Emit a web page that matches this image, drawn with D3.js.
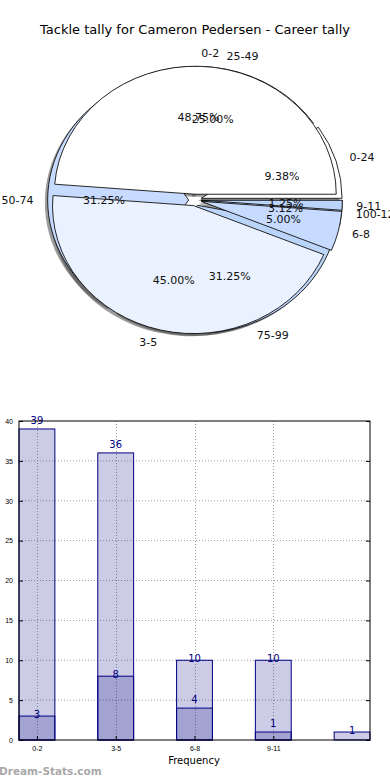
<!DOCTYPE html>
<html>
<head>
<meta charset="utf-8">
<script src="https://cdn.jsdelivr.net/npm/d3@7"></script>
<style>
  body { margin: 0; background: #fff; }
  svg { display: block; font-family: "DejaVu Sans", sans-serif; }
</style>
</head>
<body>
<div id="chart"></div>
<script>
// chart values
var title = "Tackle tally for Cameron Pedersen - Career tally";
var freqLabels = ["0-2", "3-5", "6-8", "9-11"];
var freqCounts = [39, 36, 4, 1];
var rangeLabels = ["0-24", "25-49", "50-74", "75-99", "100-124"];
var rangeCounts = [3, 8, 10, 10, 1];
var pieColors = ["#ffffff", "#ebf2ff", "#c6dbff", "#bad4fa", "#c6dbff"];
var yTicks = [0, 5, 10, 15, 20, 25, 30, 35, 40];
var xLabel = "Frequency";
var watermark = "Dream-Stats.com";

var W = 390, H = 780;
var svg = d3.select("#chart").append("svg")
    .attr("width", W)
    .attr("height", H);

svg.append("text")
    .attr("x", 195).attr("y", 34)
    .attr("text-anchor", "middle")
    .style("font-size", "13px")
    .text(title);

// ---- pies (two overlaid, matplotlib style) ----
var cx = 195, cy = 200, rx = 141, ry = 128, explode = 0.045;

// counter-clockwise from 3 o'clock
var pie = d3.pie().sort(null).startAngle(Math.PI / 2).endAngle(Math.PI / 2 - 2 * Math.PI);
var arc = d3.arc().innerRadius(0).outerRadius(ry);

// round half to even, like python's %1.2f
function pct(v, total) {
    var p = v / total * 10000;
    var f = Math.floor(p), r = Math.round(p);
    if (Math.abs(p - f - 0.5) < 1e-9) r = (f % 2 === 0) ? f : f + 1;
    return (r / 100).toFixed(2) + "%";
}

function layout(values, labels) {
    var total = d3.sum(values);
    return pie(values).map(function(d, i) {
        var m = (d.startAngle + d.endAngle) / 2;
        var ux = Math.sin(m), uy = -Math.cos(m);
        return {
            arc: d, label: labels[i], color: pieColors[i],
            pctText: pct(values[i], total),
            ux: ux, uy: uy,
            ox: cx + explode * rx * ux,
            oy: cy + explode * ry * uy
        };
    });
}

var sliceA = layout(freqCounts, freqLabels);
var sliceB = layout(rangeCounts, rangeLabels);
var allSlices = sliceB.concat(sliceA);
var sx = rx / ry;

// shadows first
svg.append("g").selectAll("path.shadow")
    .data(allSlices)
    .enter().append("path")
    .attr("class", "shadow")
    .attr("d", function(d) { return arc(d.arc); })
    .attr("transform", function(d) {
        return "translate(" + (d.ox - 0.02 * rx) + "," + (d.oy + 0.02 * ry) + ") scale(" + sx + ",1)";
    })
    .attr("fill", "#3a3a3a")
    .attr("opacity", 0.5);

function drawWedges(slices) {
    svg.append("g").selectAll("path")
        .data(slices)
        .enter().append("path")
        .attr("d", function(d) { return arc(d.arc); })
        .attr("transform", function(d) {
            return "translate(" + d.ox + "," + d.oy + ") scale(" + sx + ",1)";
        })
        .attr("fill", function(d) { return d.color; })
        .attr("stroke", "#111")
        .attr("stroke-width", 0.9)
        .attr("vector-effect", "non-scaling-stroke")
        .attr("stroke-linejoin", "miter");
}
drawWedges(sliceB);
drawWedges(sliceA);

// labels and percentages
var labelG = svg.append("g").style("font-size", "11px").attr("fill", "#111");
allSlices.forEach(function(d) {
    var lx = d.ox + 1.1 * rx * d.ux, ly = d.oy + 1.1 * ry * d.uy;
    labelG.append("text")
        .attr("x", lx).attr("y", ly)
        .attr("dy", "0.35em")
        .attr("text-anchor", d.ux >= 0 ? "start" : "end")
        .text(d.label);
    labelG.append("text")
        .attr("x", d.ox + 0.6 * rx * d.ux)
        .attr("y", d.oy + 0.6 * ry * d.uy)
        .attr("dy", "0.35em")
        .attr("text-anchor", "middle")
        .text(d.pctText);
});

// ---- overlaid bar chart ----
var barW = 0.455;
var x = d3.scaleLinear().domain([0, 4 + barW]).range([19, 370]);
var y = d3.scaleLinear().domain([0, 40]).range([740, 421]);
var navy = "#000080";

var bars = svg.append("g");

// grid
bars.selectAll(".hgrid")
    .data(yTicks.slice(1, -1))
    .enter().append("line")
    .attr("x1", x(0)).attr("x2", x(4 + barW))
    .attr("y1", function(d) { return y(d); })
    .attr("y2", function(d) { return y(d); })
    .attr("stroke", "#a0a0a0").attr("stroke-width", 1)
    .attr("stroke-dasharray", "1,2");
bars.selectAll(".vgrid")
    .data(freqLabels)
    .enter().append("line")
    .attr("x1", function(d, i) { return Math.round(x(i + barW / 2)) + 0.5; })
    .attr("x2", function(d, i) { return Math.round(x(i + barW / 2)) + 0.5; })
    .attr("y1", y(0)).attr("y2", y(40))
    .attr("stroke", "#a0a0a0").attr("stroke-width", 1)
    .attr("stroke-dasharray", "1,2");

function drawSeries(vals) {
    bars.append("g").selectAll("rect")
        .data(vals)
        .enter().append("rect")
        .attr("x", function(d, i) { return x(i); })
        .attr("width", x(barW) - x(0))
        .attr("y", function(d) { return y(d); })
        .attr("height", function(d) { return y(0) - y(d); })
        .attr("fill", navy)
        .attr("fill-opacity", 0.2)
        .attr("stroke", navy)
        .attr("stroke-width", 1);
}
drawSeries(rangeCounts);
drawSeries(freqCounts);

function drawValues(vals, shift) {
    bars.append("g").selectAll("text")
        .data(vals)
        .enter().append("text")
        .attr("x", function(d, i) { return x(i + barW / 2); })
        .attr("y", function(d) { return y(d) + shift; })
        .attr("text-anchor", "middle")
        .attr("fill", navy)
        .style("font-size", "10px")
        .text(function(d) { return d; });
}
drawValues(rangeCounts, 1.5);
drawValues(freqCounts, -5);

// axes frame and ticks
bars.append("rect")
    .attr("x", x(0)).attr("y", y(40))
    .attr("width", x(4 + barW) - x(0))
    .attr("height", y(0) - y(40))
    .attr("fill", "none").attr("stroke", "#000").attr("stroke-width", 1);

var yAxis = d3.axisLeft(y).tickValues(yTicks).tickSize(-4).tickPadding(6);
bars.append("g")
    .attr("transform", "translate(" + x(0) + ",0)")
    .call(yAxis)
    .call(function(g) { g.select(".domain").remove(); })
    .selectAll("text").style("font-size", "7px").attr("fill", "#000");
bars.append("g")
    .attr("transform", "translate(" + x(4 + barW) + ",0)")
    .call(d3.axisRight(y).tickValues(yTicks).tickSize(-4).tickFormat(""))
    .call(function(g) { g.select(".domain").remove(); });

var xAxis = d3.axisBottom(x)
    .tickValues(freqLabels.map(function(d, i) { return i + barW / 2; }))
    .tickFormat(function(d, i) { return freqLabels[i]; })
    .tickSize(-4).tickPadding(6);
bars.append("g")
    .attr("transform", "translate(0," + y(0) + ")")
    .call(xAxis)
    .call(function(g) { g.select(".domain").remove(); })
    .selectAll("text").style("font-size", "7px").attr("fill", "#000");

bars.append("text")
    .attr("x", 194).attr("y", 764)
    .attr("text-anchor", "middle")
    .style("font-size", "10px")
    .text(xLabel);

svg.append("text")
    .attr("x", -1).attr("y", 775)
    .style("font-size", "10.5px")
    .style("font-weight", "bold")
    .attr("fill", "#a8a8a8")
    .text(watermark);
</script>
</body>
</html>
